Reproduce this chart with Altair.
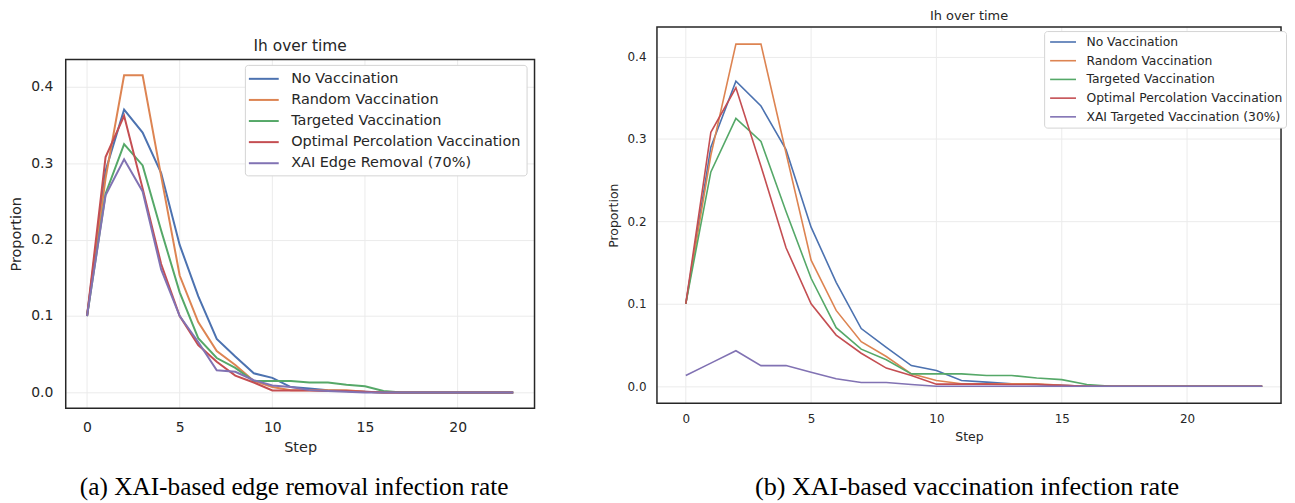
import altair as alt
import pandas as pd

steps = [0, 1, 2, 3, 4, 5, 6, 7, 8, 9, 10, 11, 12, 13, 14, 15, 16, 17, 18, 19, 20, 21, 22, 23]

no_vacc = [0.100, 0.290, 0.370, 0.340, 0.287, 0.193, 0.126, 0.070, 0.047, 0.025, 0.019, 0.007,
           0.005, 0.003, 0.002, 0.001, 0.0, 0.0, 0.0, 0.0, 0.0, 0.0, 0.0, 0.0]
random_vacc = [0.100, 0.280, 0.415, 0.415, 0.283, 0.153, 0.092, 0.054, 0.036, 0.015, 0.007, 0.003,
               0.003, 0.003, 0.003, 0.001, 0.0, 0.0, 0.0, 0.0, 0.0, 0.0, 0.0, 0.0]
targeted_vacc = [0.100, 0.260, 0.325, 0.297, 0.212, 0.131, 0.071, 0.045, 0.032, 0.015, 0.015, 0.015,
                 0.013, 0.013, 0.010, 0.008, 0.002, 0.0, 0.0, 0.0, 0.0, 0.0, 0.0, 0.0]
optimal_vacc = [0.100, 0.308, 0.362, 0.267, 0.168, 0.100, 0.062, 0.040, 0.022, 0.013, 0.0025, 0.0025,
                0.0025, 0.002, 0.002, 0.001, 0.0, 0.0, 0.0, 0.0, 0.0, 0.0, 0.0, 0.0]
xai_edge_removal = [0.100, 0.258, 0.305, 0.263, 0.161, 0.100, 0.066, 0.029, 0.027, 0.016, 0.009, 0.007,
                    0.003, 0.002, 0.001, 0.0, 0.0, 0.0, 0.0, 0.0, 0.0, 0.0, 0.0, 0.0]
xai_targeted_vacc = [0.013, 0.028, 0.043, 0.025, 0.025, 0.017, 0.009, 0.0045, 0.0045, 0.002, 0.0, 0.0,
                     0.0, 0.0, 0.0, 0.0, 0.0, 0.0, 0.0, 0.0, 0.0, 0.0, 0.0, 0.0]

names_left = ["No Vaccination", "Random Vaccination", "Targeted Vaccination",
              "Optimal Percolation Vaccination", "XAI Edge Removal (70%)"]
names_right = ["No Vaccination", "Random Vaccination", "Targeted Vaccination",
               "Optimal Percolation Vaccination", "XAI Targeted Vaccination (30%)"]
values_left = [no_vacc, random_vacc, targeted_vacc, optimal_vacc, xai_edge_removal]
values_right = [no_vacc, random_vacc, targeted_vacc, optimal_vacc, xai_targeted_vacc]
colors = ["#4c72b0", "#dd8452", "#55a868", "#c44e52", "#8172b3"]

x_ticks = [0, 5, 10, 15, 20]
y_ticks = [0.0, 0.1, 0.2, 0.3, 0.4]
panel_title = "Ih over time"
caption_left = "(a) XAI-based edge removal infection rate"
caption_right = "(b) XAI-based vaccination infection rate"

FONT = "DejaVu Sans"
TXT = "#262626"
GRID = "#ebebeb"


def long_df(names, values):
    rows = []
    for name, vals in zip(names, values):
        for s, v in zip(steps, vals):
            rows.append({"Step": s, "Proportion": v, "Series": name})
    return pd.DataFrame(rows)


def panel(names, values, w, h, top, x_max, fs, tfs, lfs, ptfs, lw, title_y, caption, cap_fs,
          cap_offset, cap_dx, x_lp, x_tp, y_lp, y_tp, sym_size, row_pad, leg_pad, leg_x, leg_y,
          sym_offset, lab_offset):
    df = long_df(names, values)
    x_axis = alt.Axis(values=x_ticks, title="Step", grid=False, ticks=False, domain=False,
                      labelFontSize=fs, titleFontSize=tfs, labelFont=FONT, titleFont=FONT,
                      labelColor=TXT, titleColor=TXT, titleFontWeight="normal",
                      labelPadding=x_lp, titlePadding=x_tp)
    x_scale = alt.Scale(domain=[-1.15, x_max], nice=False, zero=False)
    y_scale = alt.Scale(domain=[-0.02075, 0.43575], nice=False, zero=False, range=[h, top])
    y_axis = alt.Axis(values=y_ticks, format=".1f", title="Proportion", grid=True, ticks=False,
                      domain=False, labelFontSize=fs, titleFontSize=tfs, labelFont=FONT,
                      titleFont=FONT, labelColor=TXT, titleColor=TXT, titleFontWeight="normal",
                      labelPadding=y_lp, titlePadding=y_tp, gridColor=GRID, gridWidth=1,
                      titleY=(h + top) / 2)

    tick_df = pd.DataFrame({"Step": x_ticks})
    vgrid = alt.Chart(tick_df).mark_rule(color=GRID, strokeWidth=1).encode(
        x=alt.X("Step:Q", scale=x_scale, axis=x_axis),
        y=alt.value(top), y2=alt.value(h))

    lines = alt.Chart(df).mark_line(strokeWidth=lw).encode(
        x=alt.X("Step:Q", scale=x_scale, axis=x_axis),
        y=alt.Y("Proportion:Q", scale=y_scale, axis=y_axis),
        color=alt.Color("Series:N",
                        scale=alt.Scale(domain=names, range=colors),
                        sort=names,
                        legend=alt.Legend(orient="none", legendX=leg_x, legendY=leg_y, title=None,
                                          fillColor="white", strokeColor="#d4d4d4", padding=leg_pad,
                                          cornerRadius=3, labelFontSize=lfs, labelFont=FONT,
                                          labelColor=TXT, symbolType="M-2,0H2", symbolSize=sym_size,
                                          symbolStrokeWidth=lw, symbolFillColor="transparent",
                                          rowPadding=row_pad, symbolOffset=sym_offset,
                                          labelOffset=lab_offset, labelLimit=400)),
    )
    tdf = pd.DataFrame({"t": [panel_title]})
    title = alt.Chart(tdf).mark_text(fontSize=ptfs, font=FONT, color=TXT, baseline="middle").encode(
        x=alt.value(w / 2), y=alt.value(top + title_y), text="t:N")
    frame = alt.Chart(tdf).mark_rect(fillOpacity=0, stroke=TXT, strokeWidth=1.5).encode(
        x=alt.value(0), x2=alt.value(w), y=alt.value(top), y2=alt.value(h))
    return alt.layer(vgrid, lines, title, frame).properties(
        width=w, height=h,
        title=alt.TitleParams(caption, orient="bottom", anchor="middle", offset=cap_offset, dx=cap_dx,
                              font="Liberation Serif", fontSize=cap_fs, fontWeight="normal",
                              color="black"),
    )


left = panel(names_left, values_left, 471, 401, 50.5, 24.15, 14, 14.5, 14.5, 15.5, 2, -13.5,
             caption_left, 25.4, 21.5, -6,
             12, 6, 13, 7, 225, 6.2, 5.5, 180, 56, 5, 19)
right = panel(names_right, values_right, 627, 396, 18, 23.75, 12, 12.5, 12.4, 13, 1.6, -11.5,
              caption_right, 26.3, 31.5, -2,
              10, 6, 11, 7, 169, 4.8, 3.5, 389, 22, 8, 16)

chart = alt.hconcat(left, right, spacing=71).resolve_scale(
    color="independent", x="independent", y="independent"
).resolve_legend(color="independent").properties(padding=0).configure_view(stroke=None)

chart.save("out.html", embed_options={"renderer": "svg", "actions": False})
